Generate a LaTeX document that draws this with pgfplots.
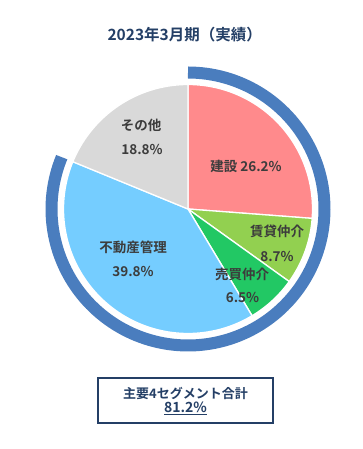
\documentclass[border=0pt]{standalone}
\usepackage{pgfplots}
\pgfplotsset{compat=1.18}
\usepackage{pgfplotstable}
\usepackage{fontspec}
\setmainfont{Noto Sans CJK JP}[BoldFont={Noto Sans CJK JP Bold}]
\definecolor{cKen}{HTML}{FF8A8C}
\definecolor{cChin}{HTML}{92D050}
\definecolor{cBai}{HTML}{22C864}
\definecolor{cFud}{HTML}{75CDFF}
\definecolor{cOth}{HTML}{D9D9D9}
\definecolor{cRing}{HTML}{4A7DBE}
\definecolor{cNavy}{HTML}{243F66}
\definecolor{cLab}{HTML}{3C3C3C}
% shares (%) : 建設, 賃貸仲介, 売買仲介, 不動産管理, その他 ; major-4 total
\pgfplotstableread{
seg value
1 26.2
2 8.7
3 6.5
4 39.8
5 18.8
}\shares
\begin{document}
\begin{tikzpicture}
\begin{axis}[hide axis, scale only axis, width=363pt, height=449pt,
  xmin=-188, xmax=175, ymin=-240, ymax=209, clip=false]
\path[fill=white] (axis cs:-188,-240) rectangle (axis cs:175,209);
% ring for the major 4 segments (81.2%)
\addplot[draw=cRing, line width=12pt, domain={90-3.6*81.2}:90, samples=150]
  ({136.5*cos(x)},{136.5*sin(x)});
% wedges, clockwise from 12 o'clock
\addplot[fill=cKen, draw=white, line width=1.3pt, domain={90-3.6*26.2}:90, samples=80]
  ({124.5*cos(x)},{124.5*sin(x)}) -- (axis cs:0,0) -- cycle;
\addplot[fill=cChin, draw=white, line width=1.3pt, domain={90-3.6*(26.2+8.7)}:{90-3.6*26.2}, samples=40]
  ({124.5*cos(x)},{124.5*sin(x)}) -- (axis cs:0,0) -- cycle;
\addplot[fill=cBai, draw=white, line width=1.3pt, domain={90-3.6*(26.2+8.7+6.5)}:{90-3.6*(26.2+8.7)}, samples=40]
  ({124.5*cos(x)},{124.5*sin(x)}) -- (axis cs:0,0) -- cycle;
\addplot[fill=cFud, draw=white, line width=1.3pt, domain={90-3.6*(26.2+8.7+6.5+39.8)}:{90-3.6*(26.2+8.7+6.5)}, samples=120]
  ({124.5*cos(x)},{124.5*sin(x)}) -- (axis cs:0,0) -- cycle;
\addplot[fill=cOth, draw=white, line width=1.3pt, domain={90-3.6*(26.2+8.7+6.5+39.8+18.8)}:{90-3.6*(26.2+8.7+6.5+39.8)}, samples=60]
  ({124.5*cos(x)},{124.5*sin(x)}) -- (axis cs:0,0) -- cycle;
% labels
\begin{scope}[every node/.style={font=\fontsize{13.5}{16}\selectfont\bfseries, text=cLab, inner sep=0pt, anchor=center}]
\node at (axis cs:58,42.5) {建設 26.2\%};
\node at (axis cs:-47,84) {その他};
\node at (axis cs:-46,59) {18.8\%};
\node at (axis cs:89,-22) {賃貸仲介};
\node at (axis cs:89,-48) {8.7\%};
\node at (axis cs:54,-65) {売買仲介};
\node at (axis cs:54.5,-89) {6.5\%};
\node at (axis cs:-55,-38.5) {不動産管理};
\node at (axis cs:-55,-63) {39.8\%};
\end{scope}
% title
\node[font=\fontsize{15.5}{18}\selectfont\bfseries, text=cNavy, inner sep=0pt] at (axis cs:-3.3,174) {2023年3月期（実績）};
% summary box
\draw[cNavy, line width=2pt] (axis cs:-90,-169) rectangle (axis cs:85,-214);
\node[font=\fontsize{13}{15}\selectfont\bfseries, text=cNavy, inner sep=0pt] at (axis cs:-2.5,-184) {主要4セグメント合計};
\node[font=\fontsize{14}{16}\selectfont\bfseries, text=cNavy, inner sep=0pt] at (axis cs:-2.5,-199.5) {\underline{81.2\%}};
\end{axis}
\end{tikzpicture}
\end{document}
